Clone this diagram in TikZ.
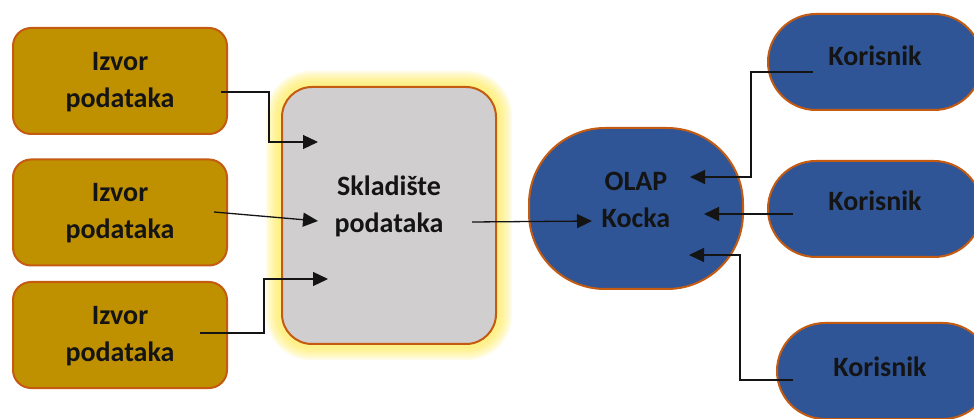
\documentclass[tikz,border=0pt]{standalone}
\usepackage{fontspec}
\setmainfont{Carlito}
\usetikzlibrary{arrows.meta,calc}
\definecolor{gold}{HTML}{BF9000}
\definecolor{rim}{HTML}{C55A11}
\definecolor{grayfill}{HTML}{D0CECE}
\definecolor{blu}{HTML}{2F5597}
\definecolor{ink}{HTML}{141414}
\definecolor{glow}{HTML}{FFEE55}
\tikzset{
  box/.style={draw=rim, line width=2pt, minimum width=214pt, inner sep=0pt},
  srcbox/.style={box, fill=gold, rounded corners=18pt, minimum height=106pt},
  storebox/.style={box, fill=grayfill, rounded corners=30pt, minimum height=257pt},
  cubebox/.style={box, fill=blu, rounded corners=76pt, minimum height=161pt},
  userbox/.style={box, fill=blu, rounded corners=48pt, minimum height=96pt},
  lbl/.style={font=\bfseries\fontsize{28}{37}\selectfont, align=center, text=ink, inner sep=0pt},
  conn/.style={line width=1.3pt, draw=ink, -{Triangle[length=15pt,width=14pt]}},
  wire/.style={line width=1.3pt, draw=ink}
}
\begin{document}
\begin{tikzpicture}[x=1pt,y=-1pt]
\useasboundingbox (0,0) rectangle (974,419);
\fill[white] (0,0) rectangle (974,419);
% glow around the store
\foreach \w in {30,26,22,18,14,10,6}{
  \draw[glow, opacity=0.15, line width=\w pt, rounded corners=30pt] (281,86) rectangle (497,345);
}
% nodes
\node[srcbox] (i1) at (120,81) {};
\node[srcbox] (i2) at (120,212.5) {};
\node[srcbox] (i3) at (120,335) {};
\node[storebox] (sk) at (389,215.5) {};
\node[cubebox] (ol) at (636,208.5) {};
\node[userbox] (k1) at (875,62) {};
\node[userbox] (k2) at (875,209) {};
\node[userbox] (k3) at (884,371) {};
% labels
\node[lbl] (t1) at ([yshift=-1pt]i1.center) {Izvor\\podataka};
\node[lbl] (t2) at ([yshift=-1pt]i2.center) {Izvor\\podataka};
\node[lbl] (t3) at ([yshift=-1pt]i3.center) {Izvor\\podataka};
\node[lbl] (tsk) at ([yshift=9pt]sk.center) {Skladište\\podataka};
\node[lbl] (tol) at ([yshift=9pt]ol.center) {OLAP\\Kocka};
\node[lbl] (tk1) at ([yshift=6pt]k1.center) {Korisnik};
\node[lbl] (tk2) at ([yshift=8pt]k2.center) {Korisnik};
\node[lbl] (tk3) at ([xshift=-4pt,yshift=4pt]k3.center) {Korisnik};
% connector points
\coordinate (a1s) at (221,92);  \coordinate (a1e) at (318,142);
\coordinate (a2s) at (214,212); \coordinate (a2e) at (318,221);
\coordinate (a3s) at (200,333); \coordinate (a3e) at (328,279);
\coordinate (a4s) at (472,222); \coordinate (a4e) at (592,221);
\coordinate (a5s) at (813,72);  \coordinate (a5e) at (690,177);
\coordinate (a6s) at (793,214); \coordinate (a6e) at (704,214);
\coordinate (a7s) at (793,380); \coordinate (a7e) at (689,255);
% connectors
\draw[conn] (a1s) -- (269,92) |- (a1e);
\draw[conn] (a2s) -- (a2e);
\draw[conn] (a3s) -- (264,333) |- (a3e);
\draw[conn] (a4s) -- (a4e);
\draw[conn] (a5s) -- (751,72) |- (a5e);
\draw[conn] (a6s) -- (a6e);
\draw[conn] (a7s) -- (740,380) |- (a7e);
\end{tikzpicture}
\end{document}
